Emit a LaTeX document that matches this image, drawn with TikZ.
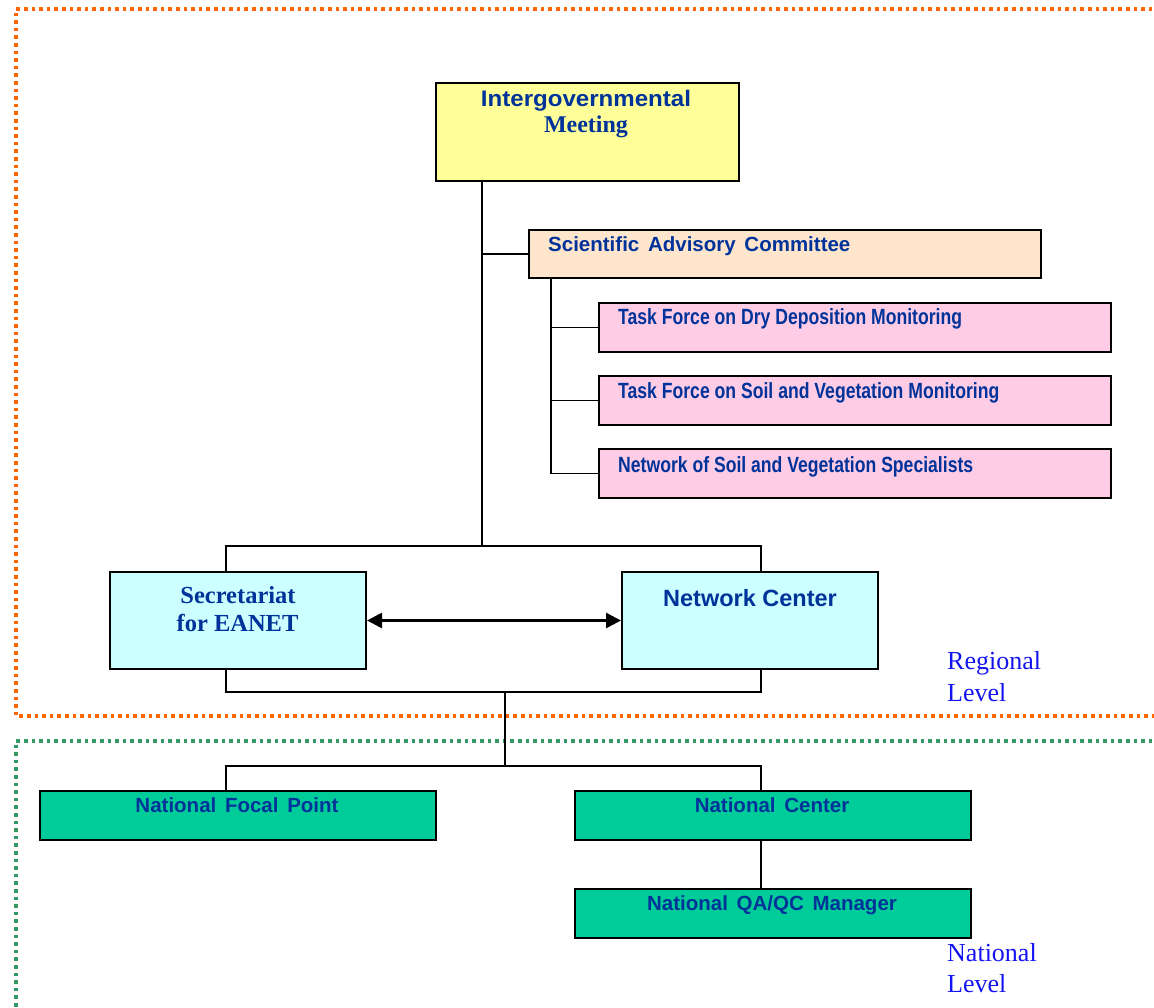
\documentclass[tikz,border=0pt]{standalone}
\usepackage{fontspec}
\setmainfont{Liberation Serif}
\setsansfont{Liberation Sans}
\newfontfamily\narrowsans[FakeStretch=0.8]{Liberation Sans}
\newfontfamily\widesans[FakeStretch=1.07]{Liberation Sans}
\usetikzlibrary{arrows.meta}
\definecolor{navytext}{RGB}{0,51,153}
\definecolor{lvlblue}{RGB}{20,20,240}
\definecolor{igmfill}{RGB}{255,255,153}
\definecolor{sacfill}{RGB}{255,229,204}
\definecolor{tffill}{RGB}{255,204,230}
\definecolor{cyanfill}{RGB}{204,255,255}
\definecolor{greenfill}{RGB}{0,204,153}
\definecolor{dotorange}{RGB}{255,102,0}
\definecolor{dotgreen}{RGB}{51,153,102}
\begin{document}
\begin{tikzpicture}[x=1pt,y=-1pt,
  box/.style={draw=black,line width=2pt,inner sep=0pt,anchor=north west},
  conn/.style={draw=black,line width=1.6pt},
  lbl/.style={text=navytext,inner sep=0pt},
  lvl/.style={text=lvlblue,inner sep=0pt,anchor=base west,font=\fontsize{26}{31}\selectfont},
  sanslbl/.style={lbl,font=\sffamily\bfseries\fontsize{20.5}{24}\selectfont},
  tflbl/.style={lbl,anchor=base west,font=\narrowsans\bfseries\fontsize{22}{26}\selectfont},
  dotline/.style={line width=3.4pt,dash pattern=on 3.6pt off 4pt},
]
\useasboundingbox (0,0) rectangle (1154,1008);
% level frames
\draw[dotline,draw=dotorange] (1160,9) -- (16,9) -- (16,716) -- (1160,716);
\draw[dotline,draw=dotgreen] (1160,741) -- (16,741) -- (16,1012);

% boxes
\node[box,fill=igmfill,minimum width=303pt,minimum height=98pt] (igm) at (435,82) {};
\node[box,fill=sacfill,minimum width=512pt,minimum height=48pt] (sac) at (528,229) {};
\node[box,fill=tffill,minimum width=512pt,minimum height=49pt] (tf1) at (598,302) {};
\node[box,fill=tffill,minimum width=512pt,minimum height=49pt] (tf2) at (598,375) {};
\node[box,fill=tffill,minimum width=512pt,minimum height=49pt] (tf3) at (598,448) {};
\node[box,fill=cyanfill,minimum width=256pt,minimum height=97pt] (sec) at (109,571) {};
\node[box,fill=cyanfill,minimum width=256pt,minimum height=97pt] (nc) at (621,571) {};
\node[box,fill=greenfill,minimum width=396pt,minimum height=49pt] (nfp) at (39,790) {};
\node[box,fill=greenfill,minimum width=396pt,minimum height=49pt] (nac) at (574,790) {};
\node[box,fill=greenfill,minimum width=396pt,minimum height=49pt] (qa) at (574,888) {};

% junction coordinates
\coordinate (j1) at (482,546);
\coordinate (s1) at (551,0);
\coordinate (L1) at (226,546);
\coordinate (R1) at (761,546);
\coordinate (L2) at (226,692);
\coordinate (R2) at (761,692);
\coordinate (m2) at (505,692);
\coordinate (m3) at (505,766);
\coordinate (L3) at (226,766);
\coordinate (R3) at (761,766);

% connectors
\draw[conn] (igm.south -| j1) -- (j1);
\draw[conn] (sac.west) -- (sac.west -| j1);
\draw[conn] (sac.south -| s1) |- (tf3.west);
\draw[conn] (tf1.west) -- (tf1.west -| s1);
\draw[conn] (tf2.west) -- (tf2.west -| s1);
\draw[conn] (sec.north -| L1) -- (L1) -- (R1) -- (nc.north -| R1);
\draw[conn] (sec.south -| L2) -- (L2) -- (R2) -- (nc.south -| R2);
\draw[conn] (m2) -- (m3);
\draw[conn] (nfp.north -| L3) -- (L3) -- (R3) -- (nac.north -| R3);
\draw[conn] (nac.south -| R3) -- (qa.north -| R3);
\draw[line width=2.7pt,{Triangle[length=15pt,width=15pt]}-{Triangle[length=15pt,width=15pt]}] (sec.east) -- (nc.west);

% texts
\node[lbl,anchor=base,font=\widesans\bfseries\fontsize{22.5}{27}\selectfont] (tigm1) at (586,107) {Intergovernmental};
\node[lbl,anchor=base,font=\bfseries\fontsize{24}{28}\selectfont] (tigm2) at (586,132.5) {Meeting};
\node[sanslbl,anchor=base west] (tsac) at (548,252) {Scientific\hspace{3pt} Advisory\hspace{3pt} Committee};
\node[tflbl] (ttf1) at (618,325) {Task Force on Dry Deposition Monitoring};
\node[tflbl] (ttf2) at (618,398.5) {Task Force on Soil and Vegetation Monitoring};
\node[tflbl] (ttf3) at (618,472) {Network of Soil and Vegetation Specialists};
\node[lbl,anchor=base,font=\bfseries\fontsize{24.5}{28}\selectfont] (tsec1) at (238,603.5) {Secretariat};
\node[lbl,anchor=base,font=\bfseries\fontsize{24.5}{28}\selectfont] (tsec2) at (237.5,631.5) {for EANET};
\node[lbl,anchor=base,font=\sffamily\bfseries\fontsize{23.5}{28}\selectfont] (tnc) at (750,606.5) {Network Center};
\node[sanslbl,anchor=base] (tnfp) at (237,812) {National\hspace{3pt} Focal\hspace{3pt} Point};
\node[sanslbl,anchor=base] (tnac) at (772,812) {National\hspace{3pt} Center};
\node[sanslbl,anchor=base] (tqa) at (772,910) {National\hspace{3pt} QA/QC\hspace{3pt} Manager};
\node[lvl] (reg1) at (947,669.5) {Regional};
\node[lvl] (reg2) at (947,701.5) {Level};
\node[lvl] (nat1) at (947,961) {National};
\node[lvl] (nat2) at (947,992) {Level};
\end{tikzpicture}
\end{document}
